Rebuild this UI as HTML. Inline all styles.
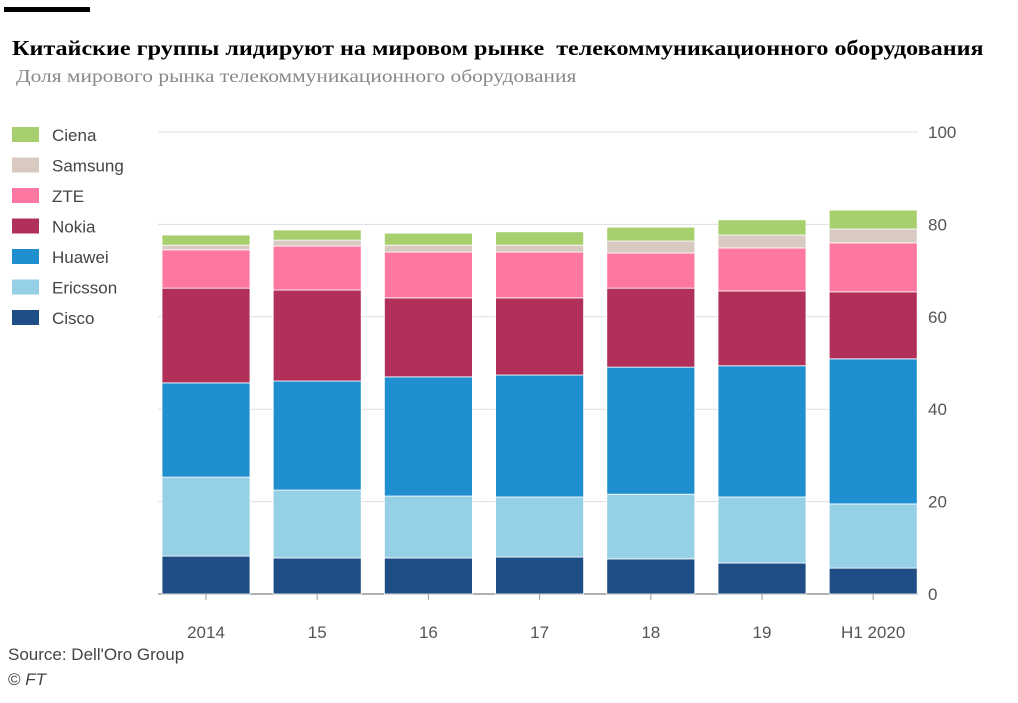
<!DOCTYPE html>
<html><head><meta charset="utf-8"><style>
body{margin:0;background:#fff;width:1018px;height:703px;overflow:hidden;position:relative;font-family:"Liberation Sans",sans-serif}
.t{position:absolute;white-space:nowrap}
</style></head><body>
<div style="position:absolute;left:4px;top:7px;width:86px;height:5px;background:#000"></div>
<div class="t" style="left:12px;top:36px;font-family:'Liberation Serif',serif;font-weight:bold;font-size:21px;color:#000;transform:scaleX(1.148);transform-origin:0 0">Китайские группы лидируют на мировом рынке&nbsp; телекоммуникационного оборудования</div>
<div class="t" style="left:16px;top:66px;font-family:'Liberation Serif',serif;font-size:18px;color:#888;transform:scaleX(1.19);transform-origin:0 0">Доля мирового рынка телекоммуникационного оборудования</div>
<svg id="c" width="1018" height="703" style="position:absolute;left:0;top:0"></svg>
<div class="t" style="left:8px;top:645px;font-size:17px;color:#444">Source: Dell'Oro Group</div>
<div class="t" style="left:8px;top:670px;font-size:17px;color:#444">© <i>FT</i></div>
<script>
const categories=["2014","15","16","17","18","19","H1 2020"];
const series=["Cisco","Ericsson","Huawei","Nokia","ZTE","Samsung","Ciena"];
const colors=["#1f4e86","#96d0e6","#1f8fd0","#b0305a","#fe77a0","#d8cac0","#a7cf6e"];
const cisco=[8.2,7.8,7.8,8.0,7.6,6.7,5.6];
const ericsson=[17.1,14.7,13.4,13.0,14.0,14.3,13.9];
const huawei=[20.4,23.6,25.8,26.4,27.5,28.4,31.4];
const nokia=[20.5,19.7,17.1,16.7,17.1,16.2,14.5];
const zte=[8.3,9.5,9.9,9.9,7.6,9.3,10.6];
const samsung=[1.0,1.3,1.5,1.5,2.6,2.8,3.0];
const ciena=[2.2,2.2,2.6,2.9,3.0,3.3,4.1];
const yTicks=[0,20,40,60,80,100];
const values=[cisco,ericsson,huawei,nokia,zte,samsung,ciena];
const NS="http://www.w3.org/2000/svg",svg=document.getElementById('c');
const y=v=>594-v*4.62, x=i=>206+i*111.2, bw=88;
function mk(t,a){const e=document.createElementNS(NS,t);for(const k in a)e.setAttribute(k,a[k]);svg.appendChild(e);return e;}
yTicks.forEach(v=>{
 const l=mk('line',{x1:158,x2:918,y1:y(v),y2:y(v),stroke:v==0?'#999':'#ddd','stroke-width':v==0?1.5:1});
 
 
 const t=mk('text',{x:928,y:y(v)+6,'font-size':17,fill:'#555'});t.textContent=v;
 
 
});
categories.forEach((c,i)=>{
 let cum=0;
 values.forEach((s,j)=>{
  const r=mk('rect',{x:x(i)-bw/2,y:y(cum+s[i]),width:bw,height:s[i]*4.62,fill:colors[j],stroke:'#fff','stroke-width':0.8});
  
  
  cum+=s[i];
 });
 const tk=mk('line',{x1:x(i),x2:x(i),y1:594,y2:600,stroke:'#999'});
 
 
 const t=mk('text',{x:x(i),y:638,'font-size':17,fill:'#555','text-anchor':'middle'});t.textContent=c;
 
 
});
for(let j=series.length-1,k=0;j>=0;j--,k++){
 const yy=135+k*30.5;
 const r=mk('rect',{x:12,y:yy-8,width:27,height:15,fill:colors[j]});
 
 
 const t=mk('text',{x:52,y:yy+6,'font-size':17,fill:'#444'});t.textContent=series[j];
 
 
}
</script>
</body></html>
